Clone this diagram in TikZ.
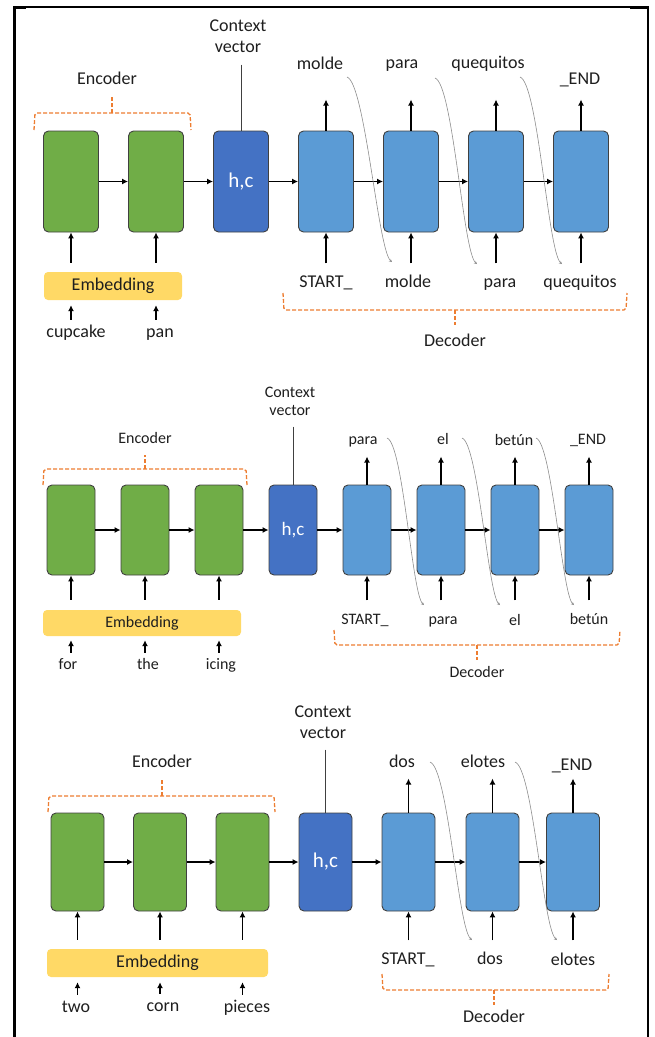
\documentclass[tikz,border=0pt]{standalone}
\usepackage{fontspec}
\setmainfont{Carlito}
\usetikzlibrary{arrows.meta}
\definecolor{encgreen}{HTML}{70AD47}
\definecolor{ctxblue}{HTML}{4472C4}
\definecolor{decblue}{HTML}{5B9BD5}
\definecolor{embyellow}{HTML}{FFD966}
\definecolor{braceorange}{HTML}{ED7D31}
\definecolor{ink}{HTML}{1E1E1E}
\definecolor{edge}{HTML}{404040}
\begin{document}
\begin{tikzpicture}[x=1pt,y=-1pt,
  cell/.style={draw=edge, line width=0.9pt, rounded corners=5pt, inner sep=0pt},
  enc/.style={cell, fill=encgreen},
  ctx/.style={cell, fill=ctxblue, text=white},
  dec/.style={cell, fill=decblue},
  emb/.style={fill=embyellow, rounded corners=4pt, inner sep=0pt, text=ink},
  lbl/.style={text=ink, inner sep=0pt},
  cvlbl/.style={text=ink, inner sep=0pt, align=center},
  arr/.style={draw=black, line width=1.7pt, -{Latex[length=6pt,width=6pt]}},
  feed/.style={draw=black!45, line width=0.6pt, -{Stealth[length=3pt,width=3pt]}},
  brace/.style={draw=braceorange, line width=1.3pt, dash pattern=on 4pt off 2pt, rounded corners=2pt},
  ctxline/.style={draw=black!75, line width=1pt},
]
\useasboundingbox (0,0) rectangle (654,1037);

% page frame
\draw[line width=3pt] (14.5,6.5) -- (14.5,1037);
\draw[line width=1.2pt] (14,7) -- (648,7);
\draw[line width=2.5pt] (648,6.5) -- (648,1037);
\draw[line width=2.4pt] (13,7.5) -- (26,7.5);
\draw[line width=2.4pt] (630,7.5) -- (649,7.5);

% ---------------- first example: cupcake pan ----------------
\begin{scope}[font=\fontsize{18}{21}\selectfont,
  lbl/.append style={text height=12.6pt, text depth=3.6pt},
  cell/.append style={minimum width=55, minimum height=101}]
  \node[enc] (p1e1) at (71,181.5) {};
  \node[enc] (p1e2) at (156,181.5) {};
  \node[ctx, font=\fontsize{21}{24}\selectfont] (p1hc) at (241,181.5) {h,c};
  \node[dec] (p1d1) at (326,181.5) {};
  \node[dec] (p1d2) at (411,181.5) {};
  \node[dec] (p1d3) at (496,181.5) {};
  \node[dec] (p1d4) at (581,181.5) {};
  \node[emb, minimum width=138, minimum height=28] (p1emb) at (113,286) {Embedding};

  \node[lbl] (p1w1) at (76,333) {cupcake};
  \node[lbl] (p1w2) at (160,333) {pan};
  \node[lbl] (p1enc) at (107,80) {Encoder};
  \node[lbl] (p1dec) at (455,342) {Decoder};
  \node[cvlbl] (p1cv) at (238,36) {Context\\vector};

  \node[lbl] (p1o1) at (320,65) {molde};
  \node[lbl] (p1o2) at (402,64) {para};
  \node[lbl] (p1o3) at (488,64) {quequitos};
  \node[lbl] (p1o4) at (580,80) {\_END};
  \node[lbl] (p1i1) at (326,283) {START\_};
  \node[lbl] (p1i2) at (408,283) {molde};
  \node[lbl] (p1i3) at (500,283) {para};
  \node[lbl] (p1i4) at (580,283) {quequitos};

  % recurrent chain
  \draw[arr] (p1e1) -- (p1e2);
  \draw[arr] (p1e2) -- (p1hc);
  \draw[arr] (p1hc) -- (p1d1);
  \draw[arr] (p1d1) -- (p1d2);
  \draw[arr] (p1d2) -- (p1d3);
  \draw[arr] (p1d3) -- (p1d4);
  % encoder inputs
  \foreach \n in {p1e1,p1e2}
    \draw[arr, shorten <=9pt] (p1emb.north -| \n) -- (\n.south);
  \draw[arr, shorten <=5pt, shorten >=5pt] (p1w1.north -| p1e1) -- (p1emb.south -| p1e1);
  \draw[arr, shorten <=5pt, shorten >=5pt] (p1w2.north -| p1e2) -- (p1emb.south -| p1e2);
  % decoder inputs and outputs
  \foreach \n in {p1d1,p1d2,p1d3,p1d4} {
    \draw[arr] ([yshift=-31pt]\n.south) -- (\n.south);
    \draw[arr] (\n.north) -- ([yshift=31pt]\n.north);
  }
  % context vector pointer
  \draw[ctxline] ([yshift=66pt]p1hc.north) -- (p1hc.north);
  % fed-back predictions
  \draw[feed] (347,77) .. controls +(18,6) and +(-14,-12) .. (392,262);
  \draw[feed] (435,78) .. controls +(18,6) and +(-14,-12) .. (477,264);
  \draw[feed] (520,77) .. controls +(18,6) and +(-14,-12) .. (562,264);
  % brackets
  \draw[brace] (34,130) -- (35,113) -- (190,113) -- (191,130);
  \draw[brace] (112,113) -- (112,97);
  \draw[brace] (283,293) -- (284,310) -- (626,310) -- (627,293);
  \draw[brace] (455,310) -- (455,325);
\end{scope}

% ---------------- second example: for the icing ----------------
\begin{scope}[font=\fontsize{16}{18}\selectfont,
  lbl/.append style={text height=11.2pt, text depth=3.2pt},
  cell/.append style={minimum width=48, minimum height=90}]
  \node[enc] (p2e1) at (71,530) {};
  \node[enc] (p2e2) at (145,530) {};
  \node[enc] (p2e3) at (219,530) {};
  \node[ctx, font=\fontsize{19}{22}\selectfont] (p2hc) at (293,530) {h,c};
  \node[dec] (p2d1) at (367,530) {};
  \node[dec] (p2d2) at (441,530) {};
  \node[dec] (p2d3) at (515,530) {};
  \node[dec] (p2d4) at (589,530) {};
  \node[emb, minimum width=198, minimum height=26] (p2emb) at (142,623) {Embedding};

  \node[lbl] (p2w1) at (68,665) {for};
  \node[lbl] (p2w2) at (148,665) {the};
  \node[lbl] (p2w3) at (221,665) {icing};
  \node[lbl] (p2enc) at (145,439) {Encoder};
  \node[lbl] (p2dec) at (477,673) {Decoder};
  \node[cvlbl] (p2cv) at (290,401) {Context\\vector};

  \node[lbl] (p2o1) at (363,440) {para};
  \node[lbl] (p2o2) at (443,440) {el};
  \node[lbl] (p2o3) at (514,441) {betún};
  \node[lbl] (p2o4) at (588,440) {\_END};
  \node[lbl] (p2i1) at (365,620) {START\_};
  \node[lbl] (p2i2) at (443,620) {para};
  \node[lbl] (p2i3) at (515,621) {el};
  \node[lbl] (p2i4) at (589,620) {betún};

  \draw[arr] (p2e1) -- (p2e2);
  \draw[arr] (p2e2) -- (p2e3);
  \draw[arr] (p2e3) -- (p2hc);
  \draw[arr] (p2hc) -- (p2d1);
  \draw[arr] (p2d1) -- (p2d2);
  \draw[arr] (p2d2) -- (p2d3);
  \draw[arr] (p2d3) -- (p2d4);
  \foreach \n in {p2e1,p2e2,p2e3}
    \draw[arr, shorten <=10pt] (p2emb.north -| \n) -- (\n.south);
  \draw[arr, shorten <=5pt, shorten >=4pt] (p2w1.north -| p2e1) -- (p2emb.south -| p2e1);
  \draw[arr, shorten <=5pt, shorten >=4pt] (p2w2.north -| p2e2) -- (p2emb.south -| p2e2);
  \draw[arr, shorten <=5pt, shorten >=4pt] (p2w3.north -| p2e3) -- (p2emb.south -| p2e3);
  \foreach \n in {p2d1,p2d2,p2d3,p2d4} {
    \draw[arr] ([yshift=-25pt]\n.south) -- (\n.south);
    \draw[arr] (\n.north) -- ([yshift=28pt]\n.north);
  }
  \draw[ctxline] ([yshift=58pt]p2hc.north) -- (p2hc.north);
  \draw[feed] (387,438) .. controls +(16,5) and +(-12,-11) .. (424,605);
  \draw[feed] (462,438) .. controls +(16,5) and +(-12,-11) .. (500,605);
  \draw[feed] (536,438) .. controls +(16,5) and +(-12,-11) .. (574,605);
  \draw[brace] (43,485) -- (44,469) -- (246,469) -- (247,485);
  \draw[brace] (145,469) -- (145,455);
  \draw[brace] (334,630) -- (335,645) -- (619,645) -- (620,630);
  \draw[brace] (477,645) -- (477,660);
\end{scope}

% ---------------- third example: two corn pieces ----------------
\begin{scope}[font=\fontsize{18}{21}\selectfont,
  lbl/.append style={text height=12.6pt, text depth=3.6pt},
  cell/.append style={minimum width=53, minimum height=98}]
  \node[enc] (p3e1) at (77.5,862) {};
  \node[enc] (p3e2) at (160,862) {};
  \node[enc] (p3e3) at (242.5,862) {};
  \node[ctx, font=\fontsize{21}{24}\selectfont] (p3hc) at (325.5,862) {h,c};
  \node[dec] (p3d1) at (408.5,862) {};
  \node[dec] (p3d2) at (492.5,862) {};
  \node[dec] (p3d3) at (573,862) {};
  \node[emb, minimum width=221, minimum height=28] (p3emb) at (157.5,963) {Embedding};

  \node[lbl] (p3w1) at (76,1008) {two};
  \node[lbl] (p3w2) at (163,1007) {corn};
  \node[lbl] (p3w3) at (247,1008) {pieces};
  \node[lbl] (p3enc) at (162,763) {Encoder};
  \node[lbl] (p3dec) at (494,1018) {Decoder};
  \node[cvlbl] (p3cv) at (323,722) {Context\\vector};

  \node[lbl] (p3o1) at (402,763) {dos};
  \node[lbl] (p3o2) at (483,763) {elotes};
  \node[lbl] (p3o3) at (572,766) {\_END};
  \node[lbl] (p3i1) at (408,960) {START\_};
  \node[lbl] (p3i2) at (490,960) {dos};
  \node[lbl] (p3i3) at (573,961) {elotes};

  \draw[arr] (p3e1) -- (p3e2);
  \draw[arr] (p3e2) -- (p3e3);
  \draw[arr] (p3e3) -- (p3hc);
  \draw[arr] (p3hc) -- (p3d1);
  \draw[arr] (p3d1) -- (p3d2);
  \draw[arr] (p3d2) -- (p3d3);
  \foreach \n in {p3e1,p3e2,p3e3}
    \draw[arr, shorten <=9pt] (p3emb.north -| \n) -- (\n.south);
  \draw[arr, shorten <=5pt, shorten >=5pt] (p3w1.north -| p3e1) -- (p3emb.south -| p3e1);
  \draw[arr, shorten <=5pt, shorten >=5pt] (p3w2.north -| p3e2) -- (p3emb.south -| p3e2);
  \draw[arr, shorten <=5pt, shorten >=5pt] (p3w3.north -| p3e3) -- (p3emb.south -| p3e3);
  \foreach \n in {p3d1,p3d2,p3d3} {
    \draw[arr] ([yshift=-29pt]\n.south) -- (\n.south);
    \draw[arr] (\n.north) -- ([yshift=34pt]\n.north);
  }
  \draw[ctxline] ([yshift=63pt]p3hc.north) -- (p3hc.north);
  \draw[feed] (430,762) .. controls +(18,6) and +(-14,-12) .. (472,940);
  \draw[feed] (515,762) .. controls +(18,6) and +(-14,-12) .. (557,940);
  \draw[brace] (48,812) -- (49,796) -- (274,796) -- (275,812);
  \draw[brace] (162,796) -- (162,780);
  \draw[brace] (382,974) -- (383,990) -- (608,990) -- (609,974);
  \draw[brace] (494,990) -- (494,1005);
\end{scope}
\end{tikzpicture}
\end{document}
